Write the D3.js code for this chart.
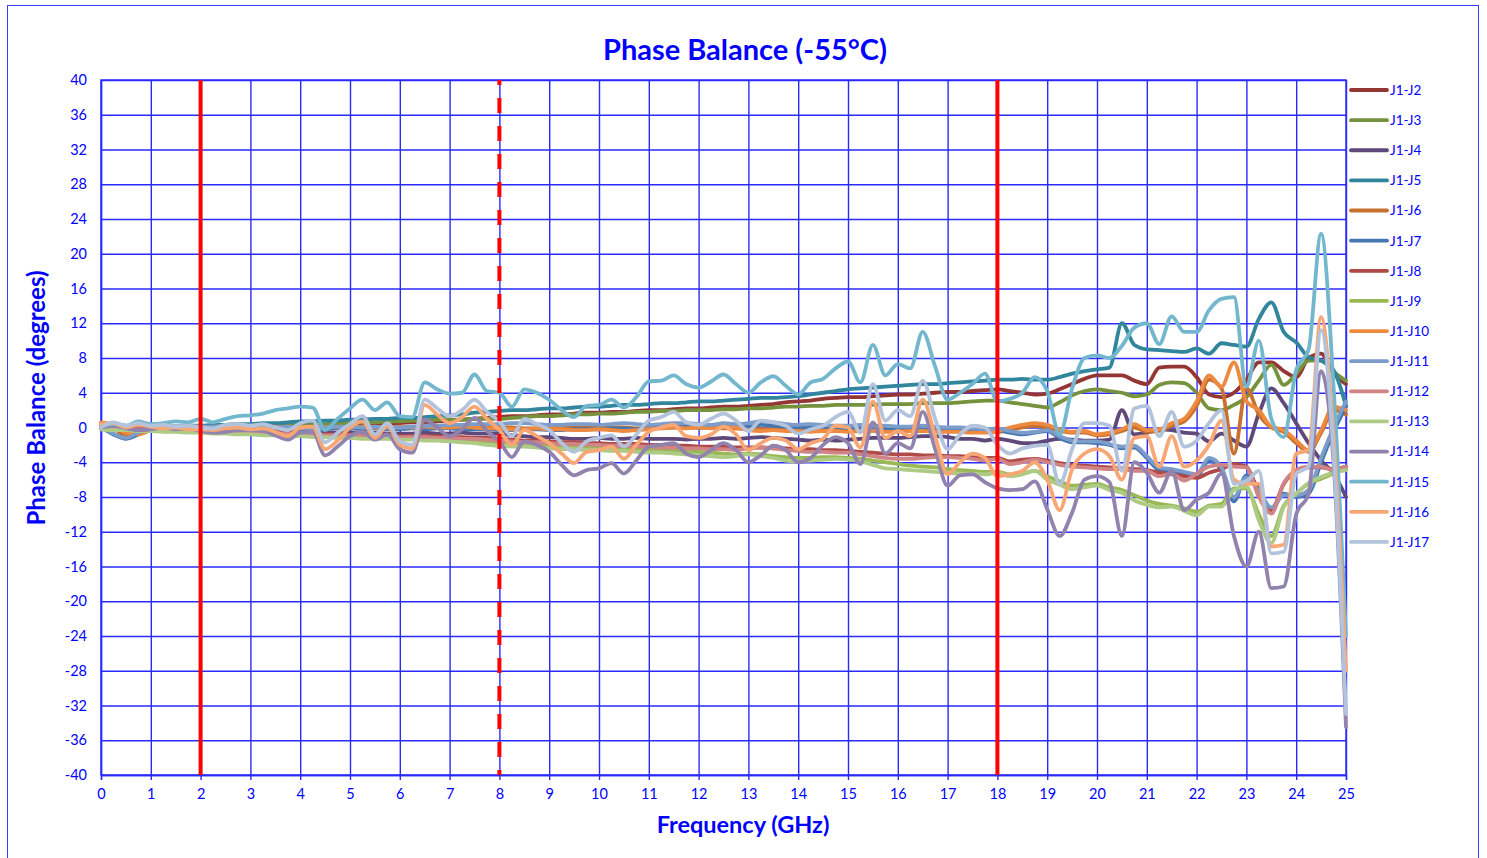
<!DOCTYPE html>
<html>
<head>
<meta charset="utf-8">
<script src="https://cdn.jsdelivr.net/npm/d3@7"></script>
<style>
  body { margin: 0; background: #fff; }
  text { font-family: Lato, "Open Sans", "DejaVu Sans", sans-serif; }
</style>
</head>
<body>
<svg id="chart" width="1487" height="858"></svg>
<script>
// frequency samples (GHz)
const freq = [0,0.25,0.5,0.75, 1,1.25,1.5,1.75, 2,2.25,2.5,2.75, 3,3.25,3.5,3.75, 4,4.25,4.5,4.75,
  5,5.25,5.5,5.75, 6,6.25,6.5,6.75, 7,7.25,7.5,7.75, 8,8.25,8.5,8.75, 9,9.25,9.5,9.75,
  10,10.25,10.5,10.75, 11,11.25,11.5,11.75, 12,12.25,12.5,12.75, 13,13.25,13.5,13.75, 14,14.25,14.5,14.75,
  15,15.25,15.5,15.75, 16,16.25,16.5,16.75, 17,17.25,17.5,17.75, 18,18.25,18.5,18.75, 19,19.25,19.5,19.75,
  20,20.25,20.5,20.75, 21,21.25,21.5,21.75, 22,22.25,22.5,22.75, 23,23.25,23.5,23.75, 24,24.25,24.5,24.75, 25];

// phase balance (degrees), one array per port pair
const j1j2 = [0.2,0.0,-0.1,0.1, 0.0,0.1,0.0,0.1, 0.0,0.1,0.2,0.1, 0.2,0.2,0.1,0.3, 0.2,0.3,0.3,0.4, 0.4,0.5,0.4,0.5, 0.5,0.6,0.6,0.7, 0.8,0.9,1.0,1.1, 1.2,1.3,1.3,1.4, 1.5,1.5,1.6,1.7, 1.7,1.8,1.8,1.9, 2.0,2.0,2.1,2.2, 2.2,2.3,2.4,2.4, 2.5,2.6,2.7,2.9, 3.0,3.1,3.3,3.4, 3.5,3.5,3.6,3.7, 3.8,3.8,3.9,4.0, 4.1,4.1,4.2,4.3, 4.4,4.2,4.0,3.8, 3.9,4.4,5.0,5.6, 6.0,6.0,6.0,5.4, 5.0,6.9,7.0,7.0, 5.8,3.8,3.5,4.0, 5.5,7.5,7.5,6.5, 5.8,8.0,8.5,6.2, 5.0];
const j1j3 = [0.1,0.4,0.2,0.0, 0.1,0.0,-0.1,0.0, 0.0,0.1,0.1,0.2, 0.2,0.2,0.3,0.3, 0.3,0.4,0.4,0.5, 0.5,0.6,0.6,0.7, 0.7,0.8,0.8,0.9, 0.9,0.9,1.0,1.0, 1.0,1.1,1.2,1.3, 1.3,1.4,1.5,1.5, 1.6,1.6,1.7,1.8, 1.8,1.9,1.9,2.0, 2.0,2.0,2.1,2.1, 2.2,2.2,2.3,2.4, 2.4,2.5,2.5,2.6, 2.6,2.6,2.6,2.7, 2.7,2.7,2.8,2.8, 2.8,2.9,3.0,3.1, 3.1,2.9,2.7,2.5, 2.3,2.9,3.7,4.2, 4.4,4.2,4.0,3.6, 3.8,4.9,5.2,5.1, 4.0,2.2,2.0,2.6, 3.5,5.4,7.2,4.9, 6.2,7.7,7.7,6.4, 5.4];
const j1j4 = [-0.1,-0.3,-0.2,0.0, -0.1,-0.2,-0.2,-0.3, -0.3,-0.3,-0.4,-0.3, -0.4,-0.4,-0.5,-0.5, -0.5,-0.6,-0.6,-0.6, -0.6,-0.7,-0.6,-0.7, -0.7,-0.7,-0.6,-0.7, -0.7,-0.6,-0.7,-0.7, -0.7,-0.9,-1.0,-1.1, -1.1,-1.2,-1.3,-1.3, -1.2,-1.3,-1.3,-1.2, -1.3,-1.3,-1.3,-1.4, -1.3,-1.3,-1.2,-1.3, -1.2,-1.1,-1.2,-1.3, -1.4,-1.5,-1.4,-1.5, -1.4,-1.3,-1.2,-1.2, -1.2,-1.1,-1.0,-1.0, -1.1,-1.3,-1.3,-1.5, -1.3,-1.5,-1.8,-1.8, -1.5,-1.3,-1.4,-1.5, -1.5,-1.4,2.0,-0.8, -0.6,-0.2,-0.3,-0.6, -0.7,-1.6,-0.7,-1.5, -2.2,1.6,4.5,2.8, 0.5,-1.8,-3.8,-5.3, -8.0];
const j1j5 = [0.0,0.2,0.1,0.0, 0.1,0.2,0.1,0.2, 0.2,0.3,0.3,0.4, 0.4,0.5,0.5,0.6, 0.7,0.7,0.8,0.8, 0.9,0.9,1.0,1.0, 1.1,1.1,1.2,1.3, 1.4,1.5,1.7,1.8, 1.9,2.0,2.0,2.1, 2.2,2.2,2.3,2.4, 2.4,2.5,2.6,2.6, 2.7,2.8,2.8,2.9, 3.0,3.0,3.1,3.2, 3.3,3.4,3.4,3.5, 3.6,3.8,4.0,4.2, 4.4,4.5,4.6,4.7, 4.8,4.9,5.0,5.0, 5.1,5.2,5.3,5.4, 5.5,5.5,5.6,5.5, 5.5,5.8,6.2,6.5, 6.7,6.9,12.0,9.5, 9.0,8.9,8.8,8.7, 9.1,8.5,9.7,9.5, 9.3,12.5,14.4,11.0, 9.8,8.1,7.7,6.6, 2.5];
const j1j6 = [0.5,0.0,-1.0,-0.7, -0.2,0.1,0.0,0.0, 0.0,0.1,0.0,0.1, 0.0,0.1,0.0,0.1, 0.0,0.0,0.1,0.0, 0.0,0.0,0.0,0.1, 0.0,0.0,0.0,0.1, 0.0,0.0,0.0,0.0, 0.0,0.0,-0.1,-0.1, -0.1,0.0,0.0,0.0, 0.0,0.0,0.0,-0.1, 0.0,0.1,0.1,0.0, 0.0,0.0,-0.1,-0.1, -0.2,-0.2,-0.2,-0.3, -0.3,-0.3,-0.3,-0.3, -0.3,-0.3,-0.4,-0.4, -0.4,-0.3,-0.3,-0.4, -0.4,-0.4,-0.4,-0.5, -0.5,-0.3,0.0,0.2, 0.0,-0.4,-0.6,-0.6, -0.9,-0.8,-0.4,0.0, -0.5,-0.4,0.2,0.7, 2.5,5.5,4.5,-3.0, 4.5,1.5,0.0,-0.5, -1.8,-2.8,-0.6,2.0, 1.5];
const j1j7 = [0.0,-0.8,-1.3,-0.8, -0.3,0.0,0.0,0.1, 0.0,0.0,0.1,0.0, 0.0,0.0,-0.1,0.0, -0.2,-0.3,-0.2,-0.1, -0.1,-0.2,-0.1,-0.2, -0.2,-0.1,-0.2,-0.1, -0.1,-0.2,-0.2,-0.2, -0.3,-0.3,-0.2,-0.2, -0.3,-0.3,-0.2,-0.2, -0.2,-0.1,-0.1,-0.2, -0.1,0.0,0.0,0.1, 0.0,0.1,0.2,0.1, 0.1,0.3,0.2,0.1, 0.0,0.0,0.1,0.0, -0.1,0.0,-0.1,-0.1, -0.2,-0.2,-0.1,-0.2, -0.3,-0.3,-0.3,-0.5, -0.3,-0.6,-0.8,-0.6, -0.4,-1.2,-1.7,-1.7, -1.8,-2.0,-2.4,-2.3, -3.5,-4.9,-5.1,-5.4, -5.7,-3.8,-4.9,-8.5, -5.5,-7.0,-9.5,-7.6, -8.0,-7.6,-4.0,-0.5, 2.4];
const j1j8 = [0.1,0.0,-0.2,-0.1, -0.2,-0.2,-0.3,-0.3, -0.4,-0.4,-0.4,-0.5, -0.5,-0.5,-0.6,-0.6, -0.7,-0.7,-0.8,-0.8, -0.8,-0.9,-0.9,-0.9, -1.0,-1.0,-1.0,-1.0, -1.1,-1.1,-1.2,-1.2, -1.3,-1.4,-1.5,-1.5, -1.6,-1.7,-1.7,-1.8, -1.8,-1.9,-1.9,-1.9, -2.0,-2.0,-2.1,-2.1, -2.2,-2.2,-2.2,-2.3, -2.3,-2.3,-2.4,-2.4, -2.5,-2.5,-2.6,-2.6, -2.7,-2.8,-2.9,-3.0, -3.1,-3.1,-3.2,-3.2, -3.3,-3.3,-3.4,-3.5, -3.5,-3.9,-3.7,-3.6, -3.8,-4.1,-4.3,-4.4, -4.5,-4.6,-4.7,-4.8, -4.9,-5.2,-5.4,-5.6, -5.8,-5.2,-4.8,-4.2, -4.5,-7.5,-9.5,-6.5, -5.0,-4.6,-4.6,-4.8, -4.5];
const j1j9 = [0.0,-0.1,-0.2,-0.3, -0.3,-0.4,-0.4,-0.5, -0.5,-0.6,-0.6,-0.7, -0.7,-0.8,-0.8,-0.9, -0.9,-1.0,-1.0,-1.1, -1.1,-1.1,-1.2,-1.2, -1.2,-1.3,-1.3,-1.3, -1.4,-1.4,-1.5,-1.6, -1.7,-1.8,-1.9,-2.0, -2.1,-2.2,-2.2,-2.3, -2.3,-2.4,-2.4,-2.5, -2.5,-2.6,-2.6,-2.7, -2.8,-2.9,-3.0,-3.1, -3.0,-3.1,-3.3,-3.4, -3.5,-3.5,-3.4,-3.4, -3.5,-3.6,-3.8,-4.0, -4.2,-4.4,-4.5,-4.6, -4.8,-4.9,-5.0,-5.1, -5.1,-5.4,-5.3,-5.0, -5.6,-6.2,-6.7,-6.6, -6.5,-6.9,-7.2,-7.8, -8.4,-8.8,-9.0,-9.3, -9.7,-9.0,-8.8,-7.0, -7.0,-10.0,-12.5,-9.0, -7.6,-6.5,-5.9,-5.3, -4.8];
const j1j10 = [0.6,0.3,-0.6,-0.8, -0.3,0.0,0.1,0.0, -0.1,0.0,0.1,0.0, 0.1,0.0,0.1,0.0, -0.1,0.0,0.0,0.1, 0.0,0.1,0.0,0.0, 0.1,0.0,0.1,0.0, 0.0,0.1,0.0,-0.1, -0.1,-0.2,-0.2,-0.1, -0.2,-0.2,-0.3,-0.3, -0.2,-0.3,-0.4,-0.3, -0.2,-0.1,0.0,-0.1, 0.0,-0.1,0.1,0.0, -0.3,-0.4,-0.3,-0.4, -0.4,-0.5,-0.4,-0.4, -0.5,-0.4,-0.4,-0.5, -0.5,-0.4,-0.4,-0.5, -0.5,-0.5,-0.6,-0.6, -0.4,0.0,0.3,0.5, 0.3,-0.2,-0.5,-0.4, -0.8,-0.6,-0.2,0.4, -0.3,-0.2,0.5,1.0, 3.0,6.0,4.7,7.5, 3.0,2.0,0.1,-0.3, -1.5,-2.6,-0.3,2.4, 2.0];
const j1j11 = [0.1,-0.7,-1.2,-0.6, -0.2,0.1,0.1,0.2, 0.1,0.1,0.2,0.1, 0.1,0.1,0.0,0.1, 0.0,-0.1,0.0,0.1, 0.1,0.0,0.1,0.0, 0.0,0.1,0.2,0.2, 0.3,0.3,0.4,0.4, 0.4,0.5,0.5,0.4, 0.3,0.3,0.4,0.4, 0.3,0.4,0.5,0.4, 0.3,0.4,0.5,0.5, 0.4,0.3,0.5,0.4, 0.5,0.7,0.6,0.4, 0.3,0.4,0.3,0.2, 0.2,0.3,0.2,0.2, 0.1,0.1,0.2,0.1, 0.0,0.0,-0.1,-0.2, -0.1,-0.4,-0.6,-0.5, -0.3,-1.0,-1.5,-1.6, -1.6,-1.9,-2.2,-2.1, -3.3,-4.6,-4.8,-5.1, -5.4,-3.5,-4.6,-8.0, -5.8,-7.3,-9.2,-7.8, -7.8,-7.2,-3.5,0.0, 3.0];
const j1j12 = [0.0,-0.1,-0.3,-0.2, -0.3,-0.3,-0.4,-0.4, -0.5,-0.5,-0.5,-0.6, -0.6,-0.6,-0.7,-0.7, -0.8,-0.8,-0.9,-0.9, -0.9,-1.0,-1.0,-1.0, -1.1,-1.1,-1.1,-1.2, -1.2,-1.3,-1.3,-1.4, -1.5,-1.6,-1.7,-1.7, -1.8,-1.9,-1.9,-2.0, -2.0,-2.1,-2.1,-2.2, -2.2,-2.3,-2.3,-2.4, -2.4,-2.5,-2.5,-2.6, -2.4,-2.3,-2.4,-2.6, -2.7,-2.8,-2.8,-2.9, -2.9,-3.1,-3.3,-3.5, -3.6,-3.6,-3.5,-3.4, -3.4,-3.5,-3.6,-3.8, -3.6,-4.2,-4.0,-3.7, -4.0,-4.3,-4.5,-4.6, -4.7,-4.8,-4.8,-5.0, -5.0,-5.6,-5.3,-6.1, -5.3,-4.5,-4.3,-4.5, -4.6,-8.0,-9.9,-6.4, -4.9,-4.5,-4.5,-4.9, -4.5];
const j1j13 = [-0.2,-0.3,-0.3,-0.4, -0.4,-0.5,-0.5,-0.6, -0.6,-0.7,-0.7,-0.8, -0.8,-0.9,-0.9,-1.0, -1.0,-1.1,-1.1,-1.2, -1.2,-1.3,-1.3,-1.3, -1.4,-1.4,-1.5,-1.5, -1.6,-1.7,-1.8,-2.0, -2.1,-2.2,-2.2,-2.3, -2.4,-2.5,-2.5,-2.6, -2.6,-2.7,-2.7,-2.8, -2.9,-2.9,-3.0,-3.1, -3.2,-3.3,-3.4,-3.3, -3.1,-3.3,-3.5,-3.8, -3.9,-3.8,-3.7,-3.6, -3.7,-3.9,-4.3,-4.7, -4.8,-4.9,-5.0,-5.1, -5.2,-5.3,-5.3,-5.4, -5.2,-5.6,-5.4,-5.0, -6.0,-6.6,-7.1,-6.9, -6.7,-7.2,-7.5,-8.4, -8.9,-9.2,-9.1,-9.6, -10.1,-9.1,-9.1,-7.2, -6.8,-10.7,-13.3,-9.1, -7.6,-6.4,-5.7,-5.2, -4.9];
const j1j14 = [0.0,0.2,-0.1,-0.3, -0.2,0.0,-0.2,-0.1, -0.4,-0.6,-0.5,-0.3, -0.3,-0.4,-0.9,-1.4, -0.6,-0.5,-3.2,-2.2, -1.0,-0.5,-1.4,-0.8, -2.5,-2.9,0.9,0.0, -1.0,-0.2,1.1,-0.4, -1.6,-3.4,-1.6,-2.0, -2.8,-4.3,-5.5,-4.9, -4.7,-4.1,-5.3,-3.8, -2.2,-2.0,-1.8,-3.0, -3.4,-2.6,-1.8,-2.6, -4.0,-3.2,-2.1,-2.6, -4.0,-3.5,-2.0,-1.1, -1.8,-4.2,0.6,-3.0, -1.8,-2.4,1.8,-2.5, -6.7,-5.5,-5.4,-6.3, -7.0,-7.2,-7.1,-6.2, -9.4,-12.5,-9.8,-6.0, -5.6,-6.3,-12.5,-4.0, -5.2,-7.5,-5.0,-9.5, -8.3,-7.5,-5.3,-12.5, -16.0,-12.0,-18.5,-18.3, -10.0,-7.6,6.5,-4.0, -34.5];
const j1j15 = [0.3,0.4,0.2,0.7, 0.4,0.5,0.7,0.6, 1.0,0.6,1.0,1.3, 1.4,1.6,2.0,2.2, 2.4,2.3,-0.3,1.0, 2.2,3.2,2.0,2.9, 1.3,1.2,5.2,4.4, 3.9,4.0,6.1,4.2, 4.0,2.4,4.4,4.0, 3.2,2.0,1.2,2.5, 2.6,3.2,2.3,3.5, 5.3,5.4,6.0,5.0, 4.6,5.3,6.1,5.0, 4.0,5.2,5.9,4.8, 3.8,5.2,5.6,6.8, 7.6,5.2,9.5,6.0, 7.3,6.8,11.0,7.0, 3.2,4.0,5.0,6.2, 3.0,3.3,4.0,5.8, 4.2,-0.8,4.5,8.0, 8.3,8.0,9.4,11.5, 12.0,9.6,12.8,11.0, 11.0,13.5,14.8,15.0, 4.7,10.0,1.0,-1.1, 6.6,9.0,22.3,4.7, -24.0];
const j1j16 = [0.4,0.5,0.0,0.3, 0.1,-0.1,0.0,-0.2, -0.2,-0.3,-0.1,0.0, -0.2,-0.1,-0.5,-1.0, 0.0,0.1,-2.5,-1.5, 0.0,0.7,-1.2,0.2, -2.0,-2.4,2.6,1.5, 0.5,1.2,2.4,1.0, -0.3,-2.0,-0.3,-1.0, -1.8,-3.0,-4.1,-2.8, -2.6,-2.2,-3.6,-2.0, -0.5,0.0,0.3,-1.0, -1.2,-0.8,0.1,-0.8, -2.6,-1.8,-1.2,-1.5, -2.5,-1.8,-1.3,0.2, 0.0,-2.3,3.0,-1.2, -0.4,-1.0,3.2,-1.0, -5.4,-4.0,-3.0,-3.5, -5.6,-5.4,-5.0,-4.0, -6.0,-9.5,-4.8,-3.0, -2.5,-3.3,-6.0,-1.2, -1.0,-4.5,-1.0,-4.5, -3.8,-2.0,0.8,-6.0, -6.5,-6.5,-13.7,-13.5, -3.0,-2.6,12.7,-1.1, -28.0];
const j1j17 = [0.0,0.6,0.2,0.5, 0.2,0.3,0.1,0.2, 0.0,-0.1,0.3,0.4, 0.2,0.4,0.0,-0.3, 0.5,0.8,-1.7,-0.6, 0.4,1.3,-0.8,0.5, -1.6,-2.0,3.2,2.2, 1.3,2.0,3.2,1.8, 0.7,-1.0,1.0,0.4, -0.3,-1.8,-2.8,-1.6, -1.2,-0.9,-2.2,-0.8, 0.8,1.2,1.8,0.6, 0.3,1.0,1.6,0.8, -0.4,0.8,0.6,0.2, -0.7,-0.2,0.2,1.2, 1.8,-0.6,5.0,0.8, 2.0,1.3,5.4,1.0, -2.5,-0.8,0.2,0.0, -2.0,-3.0,-2.4,-2.1, -2.0,-6.5,-2.5,0.5, 0.5,0.2,-5.0,2.2, 2.5,-1.0,1.8,-2.2, -1.5,0.5,2.0,-6.5, -6.2,-5.0,-14.5,-14.3, -5.3,-4.5,11.2,-3.0, -33.0];

const seriesNames = ['J1-J2','J1-J3','J1-J4','J1-J5','J1-J6','J1-J7','J1-J8','J1-J9',
                     'J1-J10','J1-J11','J1-J12','J1-J13','J1-J14','J1-J15','J1-J16','J1-J17'];
const seriesValues = [j1j2,j1j3,j1j4,j1j5,j1j6,j1j7,j1j8,j1j9,j1j10,j1j11,j1j12,j1j13,j1j14,j1j15,j1j16,j1j17];
const seriesColors = ['#943634','#76923c','#5f497a','#31859c','#c8702e','#4677b0','#b04a48','#98b954',
                      '#ee8a3f','#7c9cc9','#d08485','#aecb86','#9182ae','#72b7ce','#f9a675','#b3c3dc'];

// band limits (GHz) marked in red
const bandEdges = [2, 8, 18];
const bandDashed = [false, true, false];

const xTicks = [0,1,2,3,4,5,6,7,8,9,10,11,12,13,14,15,16,17,18,19,20,21,22,23,24,25];
const yTicks = [-40,-36,-32,-28,-24,-20,-16,-12,-8,-4,0,4,8,12,16,20,24,28,32,36,40];

const blue = '#0000ff';
const gridBlue = '#2a2aff';

const svg = d3.select('#chart');
const margin = { top: 80, right: 141, bottom: 83, left: 101 };
const width = 1487 - margin.left - margin.right;   // 1245
const height = 858 - margin.top - margin.bottom;   // 695

// outer chart frame
svg.append('rect')
    .attr('x', 7.5).attr('y', 5.5)
    .attr('width', 1471).attr('height', 880)
    .attr('fill', 'none')
    .attr('stroke', '#3c3cff')
    .attr('stroke-width', 1);

const g = svg.append('g').attr('transform', `translate(${margin.left},${margin.top})`);

const x = d3.scaleLinear().domain([0, 25]).range([0, width]);
const y = d3.scaleLinear().domain([-40, 40]).range([height, 0]);

// grid
g.append('g')
    .attr('class', 'grid')
    .call(d3.axisLeft(y).tickValues(yTicks).tickSize(-width).tickFormat(''))
    .call(s => s.select('.domain').remove())
    .selectAll('line')
    .attr('stroke', gridBlue)
    .attr('stroke-width', 1.4);

g.append('g')
    .attr('class', 'grid')
    .attr('transform', `translate(0,${height})`)
    .call(d3.axisBottom(x).tickValues(xTicks).tickSize(-height).tickFormat(''))
    .call(s => s.select('.domain').remove())
    .selectAll('line')
    .attr('stroke', gridBlue)
    .attr('stroke-width', 1.4);

// plot border
g.append('rect')
    .attr('width', width).attr('height', height)
    .attr('fill', 'none')
    .attr('stroke', gridBlue)
    .attr('stroke-width', 1.4);

// axes with labels (plain hyphen for negatives, as in the original)
const xAxis = g.append('g')
    .attr('transform', `translate(0,${height})`)
    .call(d3.axisBottom(x).tickValues(xTicks).tickSize(5).tickPadding(9).tickFormat(d => String(d)));
xAxis.select('.domain').attr('stroke', gridBlue).attr('stroke-width', 1.4);
xAxis.selectAll('.tick line').attr('stroke', gridBlue).attr('stroke-width', 1.4);
xAxis.selectAll('text').attr('fill', blue).style('font-size', '14.5px');

const yAxis = g.append('g')
    .call(d3.axisLeft(y).tickValues(yTicks).tickSize(0).tickPadding(14).tickFormat(d => String(d)));
yAxis.select('.domain').attr('stroke', gridBlue).attr('stroke-width', 1.4);
yAxis.selectAll('text').attr('fill', blue).style('font-size', '14.5px');

// series lines
const line = d3.line()
    .x((d, i) => x(freq[i]))
    .y(d => y(d))
    .curve(d3.curveMonotoneX);

g.selectAll('.series')
    .data(seriesValues)
    .enter().append('path')
    .attr('class', 'series')
    .attr('fill', 'none')
    .attr('stroke', (d, i) => seriesColors[i])
    .attr('stroke-width', 3.8)
    .attr('stroke-linejoin', 'round')
    .attr('stroke-linecap', 'round')
    .attr('d', line);

// band edge markers
g.selectAll('.band')
    .data(bandEdges)
    .enter().append('line')
    .attr('class', 'band')
    .attr('x1', d => x(d)).attr('x2', d => x(d))
    .attr('y1', 0).attr('y2', height)
    .attr('stroke', '#ff0000')
    .attr('stroke-width', 4)
    .attr('stroke-dasharray', (d, i) => bandDashed[i] ? '15,13' : null)
    .attr('stroke-dashoffset', (d, i) => bandDashed[i] ? 10 : null);

// legend
const legend = svg.append('g').attr('transform', 'translate(1351,90)');
const item = legend.selectAll('.item')
    .data(seriesNames)
    .enter().append('g')
    .attr('class', 'item')
    .attr('transform', (d, i) => `translate(0,${i * 30.13})`);
item.append('line')
    .attr('x1', 0).attr('x2', 36)
    .attr('stroke', (d, i) => seriesColors[i])
    .attr('stroke-width', 3.8)
    .attr('stroke-linecap', 'round');
item.append('text')
    .attr('x', 39).attr('dy', '0.36em')
    .attr('fill', blue)
    .style('font-size', '13.5px')
    .text(d => d);

// titles
svg.append('text')
    .attr('x', 745).attr('y', 60)
    .attr('text-anchor', 'middle')
    .attr('fill', blue)
    .style('font-size', '29px').style('font-weight', 'bold')
    .text('Phase Balance (-55°C)');

svg.append('text')
    .attr('x', 743).attr('y', 833)
    .attr('text-anchor', 'middle')
    .attr('fill', blue)
    .style('font-size', '23.5px').style('font-weight', 'bold')
    .text('Frequency (GHz)');

svg.append('text')
    .attr('transform', 'translate(45,398) rotate(-90)')
    .attr('text-anchor', 'middle')
    .attr('fill', blue)
    .style('font-size', '24px').style('font-weight', 'bold')
    .text('Phase Balance (degrees)');

seriesValues.forEach((v, i) => {
    if (v.length !== freq.length) console.error(seriesNames[i] + ' has ' + v.length + ' values');
});
</script>
</body>
</html>
